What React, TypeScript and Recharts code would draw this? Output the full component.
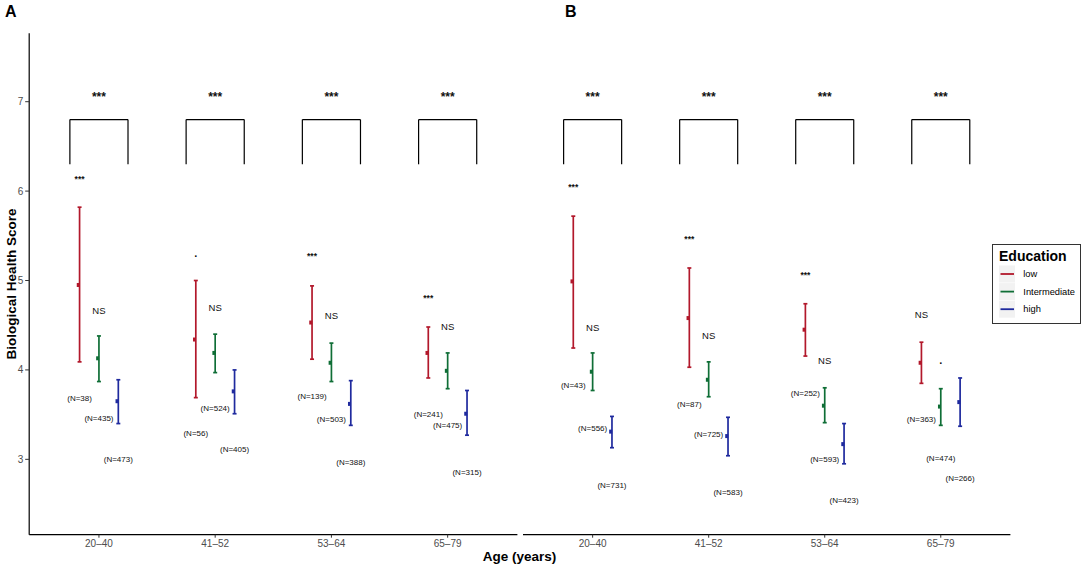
import React from "react";
import {
  ComposedChart,
  Scatter,
  ErrorBar,
  XAxis,
  YAxis,
  ReferenceLine,
} from "recharts";

const FONT = "'Liberation Sans', Arial, Helvetica, sans-serif";

const categories = ["20–40", "41–52", "53–64", "65–79"];
const levels = ["low", "Intermediate", "high"];
const colors = ["#B2182B", "#0F6E36", "#1F2A9E"];
const dodge = [-1 / 6, 0, 1 / 6];
const yTicks = [3, 4, 5, 6, 7];
const yDomain = [2.157, 7.765];

// panel A (mean, lower, upper)
const aLowMean = [4.95, 4.34, 4.53, 4.19];
const aLowLo = [4.09, 3.69, 4.12, 3.91];
const aLowHi = [5.82, 5.0, 4.94, 4.48];
const aMidMean = [4.13, 4.19, 4.08, 3.99];
const aMidLo = [3.87, 3.97, 3.87, 3.79];
const aMidHi = [4.38, 4.4, 4.3, 4.19];
const aHighMean = [3.65, 3.76, 3.62, 3.51];
const aHighLo = [3.4, 3.51, 3.38, 3.27];
const aHighHi = [3.89, 4.0, 3.88, 3.77];

// panel B
const bLowMean = [4.99, 4.58, 4.45, 4.08];
const bLowLo = [4.245, 4.03, 4.155, 3.85];
const bLowHi = [5.72, 5.14, 4.74, 4.31];
const bMidMean = [3.98, 3.89, 3.6, 3.59];
const bMidLo = [3.77, 3.7, 3.41, 3.38];
const bMidHi = [4.19, 4.09, 3.8, 3.79];
const bHighMean = [3.31, 3.26, 3.17, 3.64];
const bHighLo = [3.13, 3.04, 2.95, 3.37];
const bHighHi = [3.48, 3.47, 3.4, 3.91];

// significance labels above low and intermediate groups
const aSigLow = ["***", ".", "***", "***"];
const aSigLowY = [6.14, 5.31, 5.27, 4.8];
const aSigMid = ["NS", "NS", "NS", "NS"];
const aSigMidY = [4.67, 4.7, 4.61, 4.49];
const bSigLow = ["***", "***", "***", "NS"];
const bSigLowY = [6.05, 5.46, 5.065, 4.62];
const bSigMid = ["NS", "NS", "NS", "."];
const bSigMidY = [4.48, 4.39, 4.1, 4.11];

// group sizes
const aNLow = [38, 56, 139, 241];
const aNLowY = [3.68, 3.29, 3.7, 3.5];
const aNMid = [435, 524, 503, 475];
const aNMidY = [3.46, 3.57, 3.45, 3.38];
const aNHigh = [473, 405, 388, 315];
const aNHighY = [3.0, 3.11, 2.97, 2.85];
const bNLow = [43, 87, 252, 363];
const bNLowY = [3.83, 3.61, 3.74, 3.44];
const bNMid = [556, 725, 593, 474];
const bNMidY = [3.35, 3.28, 3.0, 3.01];
const bNHigh = [731, 583, 423, 266];
const bNHighY = [2.71, 2.63, 2.54, 2.79];

// bracket between low and high, with stars on top
const bracketY = [6.3, 6.8];
const bracketHalf = 0.25;
const bracketStar = "***";
const bracketStarY = 7.05;

type Row = { x: number; y: number; err: number[] };
type Note = { x: number; y: number; label: string; size: number; bold?: boolean };

function seriesRows(mean: number[], lo: number[], hi: number[], k: number): Row[] {
  return mean.map((m, i) => ({ x: i + 1 + dodge[k], y: m, err: [m - lo[i], hi[i] - m] }));
}

function noteRows(labels: string[], ys: number[], k: number, size: number): Note[] {
  return labels.map((label, i) => ({ x: i + 1 + dodge[k], y: ys[i], label, size }));
}

function sigRows(labels: string[], ys: number[], k: number): Note[] {
  return labels.map((label, i) => ({
    x: i + 1 + dodge[k],
    y: ys[i],
    label,
    size: label === "NS" ? 9.5 : label === "." ? 11 : 8.5,
    bold: label !== "NS",
  }));
}

const NoteShape = (props: any) => {
  const p = props.payload as Note;
  return (
    <text
      x={props.cx}
      y={props.cy}
      textAnchor="middle"
      dominantBaseline="central"
      fontSize={p.size}
      fontWeight={p.bold ? "bold" : "normal"}
      fontFamily={FONT}
      fill="#111"
      stroke="none"
    >
      {p.label}
    </text>
  );
};

const meanShape = (color: string) => (props: any) => (
  <rect x={props.cx - 2.8} y={props.cy - 2} width={3} height={4} fill={color} />
);

function Panel(props: {
  left: number;
  width: number;
  marginLeft: number;
  showY: boolean;
  rows: Row[][];
  notes: Note[];
}) {
  const { left, width, marginLeft, showY, rows, notes } = props;
  const stars: Note[] = categories.map((_, i) => ({
    x: i + 1,
    y: bracketStarY,
    label: bracketStar,
    size: 12,
    bold: true,
  }));
  return (
    <div style={{ position: "absolute", left, top: 0 }}>
      <ComposedChart
        width={width}
        height={569}
        margin={{ top: 33.3, right: 2.6, bottom: 14.3, left: marginLeft }}
      >
        <XAxis
          type="number"
          dataKey="x"
          domain={[0.4, 4.6]}
          ticks={[1, 2, 3, 4]}
          tickFormatter={(v: number) => categories[v - 1]}
          allowDataOverflow
          height={20}
          tickSize={3}
          tickMargin={2}
          tick={{ fill: "#4d4d4d", fontSize: 10, fontFamily: FONT }}
          tickLine={{ stroke: "#333" }}
          axisLine={{ stroke: "#000", strokeWidth: 1.2 }}
        />
        <YAxis
          type="number"
          dataKey="y"
          domain={yDomain}
          ticks={yTicks}
          allowDataOverflow
          hide={!showY}
          width={29.2}
          tickSize={4}
          tickMargin={2}
          tick={{ fill: "#4d4d4d", fontSize: 10, fontFamily: FONT }}
          tickLine={{ stroke: "#333" }}
          axisLine={{ stroke: "#000", strokeWidth: 1.2 }}
        />
        {categories.map((_, i) => {
          const l = i + 1 - bracketHalf;
          const r = i + 1 + bracketHalf;
          return (
            <React.Fragment key={"br" + i}>
              <ReferenceLine
                segment={[{ x: l, y: bracketY[0] }, { x: l, y: bracketY[1] }]}
                stroke="#000"
                strokeWidth={1.2}
                ifOverflow="visible"
              />
              <ReferenceLine
                segment={[{ x: l, y: bracketY[1] }, { x: r, y: bracketY[1] }]}
                stroke="#000"
                strokeWidth={1.2}
                ifOverflow="visible"
              />
              <ReferenceLine
                segment={[{ x: r, y: bracketY[0] }, { x: r, y: bracketY[1] }]}
                stroke="#000"
                strokeWidth={1.2}
                ifOverflow="visible"
              />
            </React.Fragment>
          );
        })}
        {rows.map((data, k) => (
          <Scatter
            key={levels[k]}
            name={levels[k]}
            data={data}
            fill={colors[k]}
            shape={meanShape(colors[k])}
            isAnimationActive={false}
          >
            <ErrorBar
              dataKey="err"
              direction="y"
              width={2}
              stroke={colors[k]}
              strokeWidth={1.7}
              isAnimationActive={false}
            />
          </Scatter>
        ))}
        <Scatter data={[...notes, ...stars]} shape={NoteShape} isAnimationActive={false} />
      </ComposedChart>
    </div>
  );
}

export default function App() {
  const rowsA = [
    seriesRows(aLowMean, aLowLo, aLowHi, 0),
    seriesRows(aMidMean, aMidLo, aMidHi, 1),
    seriesRows(aHighMean, aHighLo, aHighHi, 2),
  ];
  const rowsB = [
    seriesRows(bLowMean, bLowLo, bLowHi, 0),
    seriesRows(bMidMean, bMidLo, bMidHi, 1),
    seriesRows(bHighMean, bHighLo, bHighHi, 2),
  ];
  const fmt = (n: number[]) => n.map((v) => `(N=${v})`);
  const notesA = [
    ...sigRows(aSigLow, aSigLowY, 0),
    ...sigRows(aSigMid, aSigMidY, 1),
    ...noteRows(fmt(aNLow), aNLowY, 0, 8),
    ...noteRows(fmt(aNMid), aNMidY, 1, 8),
    ...noteRows(fmt(aNHigh), aNHighY, 2, 8),
  ];
  const notesB = [
    ...sigRows(bSigLow, bSigLowY, 0),
    ...sigRows(bSigMid, bSigMidY, 1),
    ...noteRows(fmt(bNLow), bNLowY, 0, 8),
    ...noteRows(fmt(bNMid), bNMidY, 1, 8),
    ...noteRows(fmt(bNHigh), bNHighY, 2, 8),
  ];

  return (
    <div
      style={{
        position: "absolute",
        left: 0,
        top: 0,
        width: 1084,
        height: 569,
        background: "#fff",
        overflow: "hidden",
        fontFamily: FONT,
      }}
    >
      <Panel left={0} width={520} marginLeft={0} showY rows={rowsA} notes={notesA} />
      <Panel left={520} width={493} marginLeft={3} showY={false} rows={rowsB} notes={notesB} />
      <svg
        width={1084}
        height={569}
        style={{ position: "absolute", left: 0, top: 0, pointerEvents: "none" }}
        fontFamily={FONT}
      >
        <text x={5} y={17} fontSize={16} fontWeight="bold">A</text>
        <text x={565} y={17} fontSize={16} fontWeight="bold">B</text>
        <text
          x={11}
          y={284}
          fontSize={13.5}
          fontWeight="bold"
          textAnchor="middle"
          dominantBaseline="central"
          transform="rotate(-90 11 284)"
        >
          Biological Health Score
        </text>
        <text x={519.5} y={556} fontSize={13.5} fontWeight="bold" textAnchor="middle" dominantBaseline="central">
          Age (years)
        </text>
        <rect x={992.5} y={244.5} width={88} height={79} fill="#fff" stroke="#333" strokeWidth={1} />
        <text x={999} y={261} fontSize={14} fontWeight="bold">Education</text>
        {levels.map((name, k) => {
          const top = 265.5 + k * 17.6;
          return (
            <g key={name}>
              <rect x={999} y={top} width={16} height={17} fill="#f2f2f2" />
              <line x1={1000.5} x2={1014} y1={top + 8.5} y2={top + 8.5} stroke={colors[k]} strokeWidth={1.8} />
              <text x={1023.3} y={top + 8.5} fontSize={9.3} dominantBaseline="central">
                {name}
              </text>
            </g>
          );
        })}
      </svg>
    </div>
  );
}
